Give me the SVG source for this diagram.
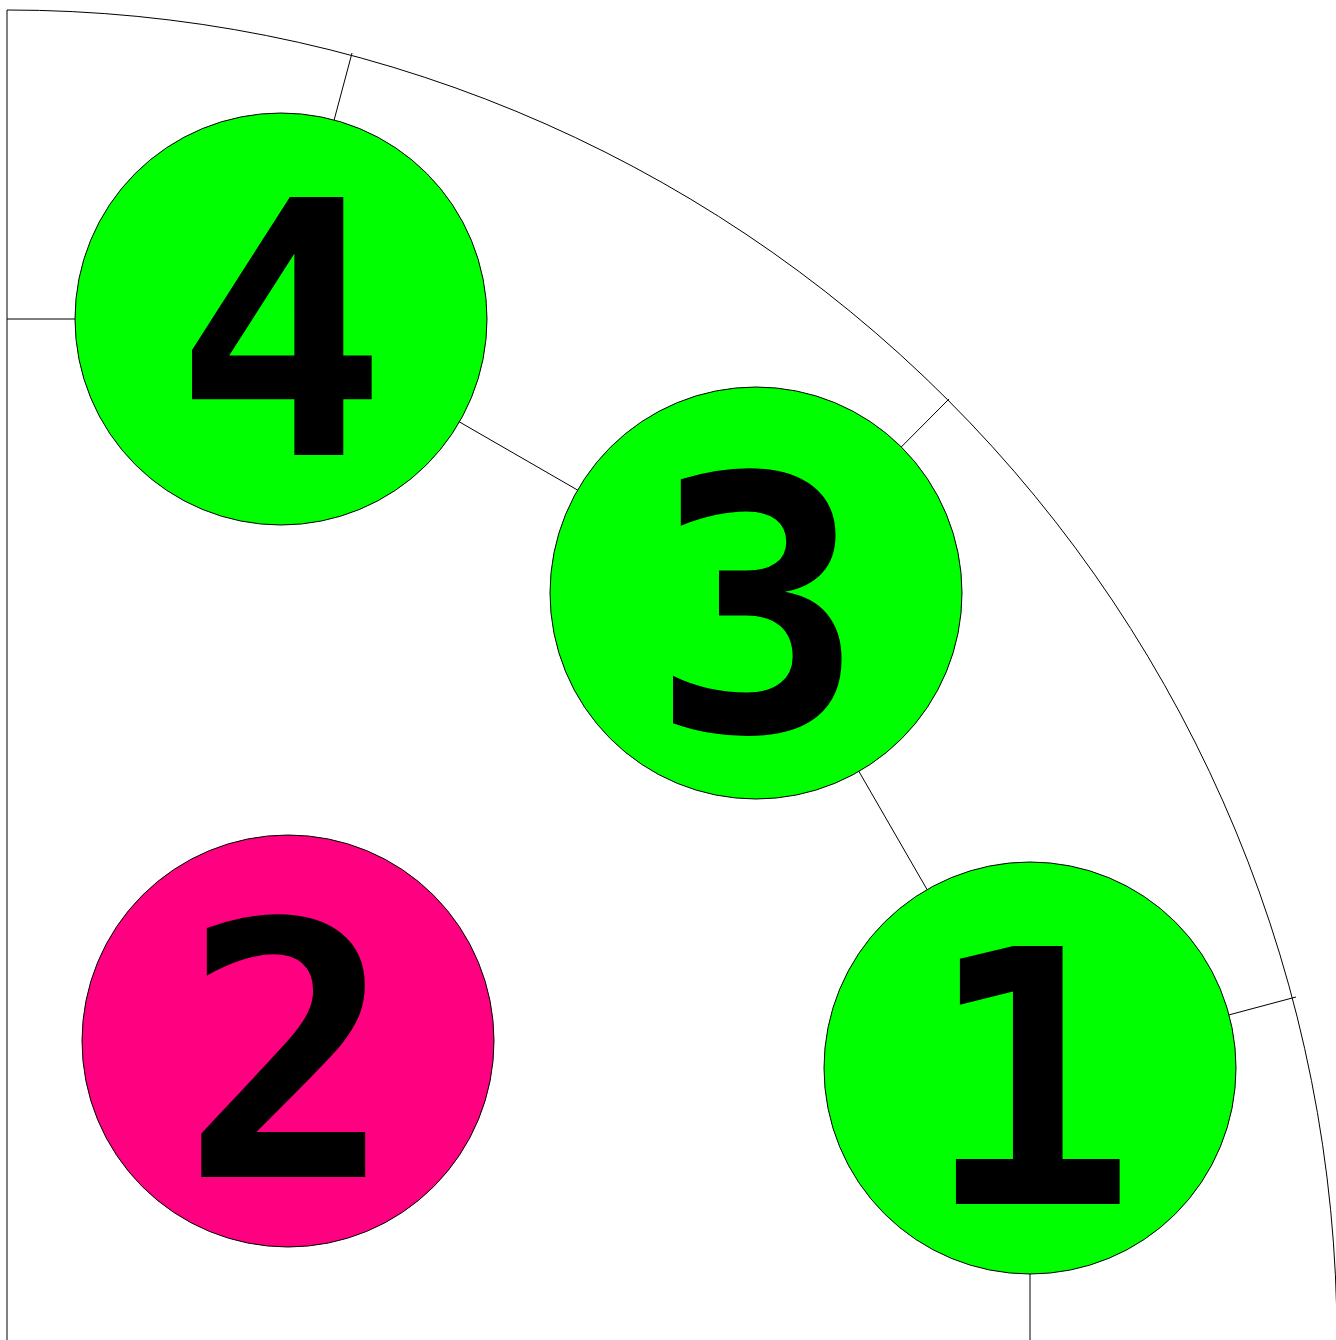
<svg xmlns="http://www.w3.org/2000/svg" width="1336" height="1340" viewBox="0 0 1336 1340">
<style>
.ln{stroke:#000;stroke-width:1;fill:none}
.nd{stroke:#000;stroke-width:1}
.g{fill:#00ff00}
.p{fill:#ff0080}
.t{font-family:"DejaVu Sans Mono",monospace;font-weight:bold;font-size:354px;fill:#000;text-anchor:middle}
</style>
<rect width="1336" height="1340" fill="#fff"/>
<g id="connectors">
<path class="ln" d="M7,10 A1330,1330 0 0 1 1337,1340"/>
<line class="ln" x1="7" y1="10" x2="7" y2="1340"/>
<line class="ln" x1="7" y1="319" x2="281" y2="319"/>
<line class="ln" x1="281" y1="319" x2="756" y2="593"/>
<line class="ln" x1="756" y1="593" x2="1030" y2="1068"/>
<line class="ln" x1="1030" y1="1068" x2="1030" y2="1340"/>
<line class="ln" x1="281" y1="319" x2="352" y2="53"/>
<line class="ln" x1="756" y1="593" x2="949" y2="399"/>
<line class="ln" x1="1030" y1="1068" x2="1296" y2="997"/>
</g>
<g id="node4"><circle class="nd g" cx="281" cy="319" r="206"/><text class="t" x="281" y="455">4</text></g>
<g id="node3"><circle class="nd g" cx="756" cy="593" r="206"/><text class="t" x="758" y="731">3</text></g>
<g id="node1"><circle class="nd g" cx="1030" cy="1068" r="206"/><text class="t" x="1030" y="1204">1</text></g>
<g id="node2"><circle class="nd p" cx="288" cy="1041" r="206"/><text class="t" x="288" y="1177">2</text></g>
</svg>
